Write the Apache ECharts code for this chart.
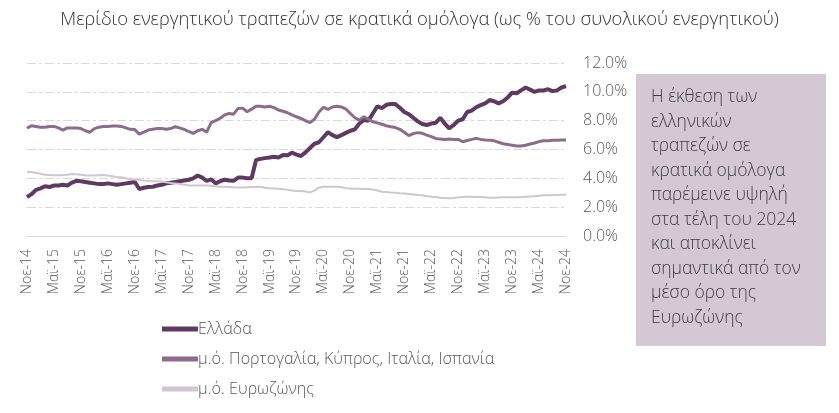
<!DOCTYPE html>
<html><head><meta charset="utf-8">
<script src="https://cdn.jsdelivr.net/npm/echarts@6/dist/echarts.min.js"></script>
<style>html,body{margin:0;padding:0;background:#fff}#c{width:839px;height:413px}</style>
</head><body><div id="c"></div>
<script>
var monthNames = ['Ιαν','Φεβ','Μαρ','Απρ','Μαϊ','Ιουν','Ιουλ','Αυγ','Σεπ','Οκτ','Νοε','Δεκ'];
var startYear = 2014, startMonth = 10, nMonths = 121;
var categories = [];
for (var k = 0; k < nMonths; k++) {
  var m = (startMonth + k) % 12, y = startYear + Math.floor((startMonth + k) / 12);
  categories.push(monthNames[m] + '-' + String(y).slice(2));
}
var greece = [
 2.7,2.9,3.2,3.3,3.45,3.4,3.5,3.5,3.55,3.5,3.7,3.83,
 3.8,3.75,3.7,3.65,3.6,3.6,3.65,3.6,3.55,3.6,3.65,3.7,
 3.75,3.26,3.35,3.4,3.42,3.5,3.55,3.65,3.7,3.75,3.8,3.85,
 3.9,4.0,4.2,4.05,3.83,3.93,3.65,3.8,3.9,3.85,3.83,4.05,
 4.05,4.0,4.0,5.27,5.35,5.4,5.45,5.5,5.45,5.62,5.6,5.78,
 5.65,5.55,5.8,6.1,6.4,6.5,6.85,7.2,7.0,6.86,7.0,7.15,
 7.3,7.4,7.8,8.05,8.0,8.5,9.0,8.87,9.1,9.15,9.15,8.9,
 8.6,8.45,8.2,7.95,7.77,7.7,7.8,7.85,8.2,7.8,7.47,7.7,
 8.0,8.1,8.6,8.7,8.93,9.08,9.2,9.43,9.35,9.2,9.35,9.6,
 9.94,9.9,10.1,10.3,10.15,10.0,10.1,10.1,10.18,10.05,10.1,10.3,10.4
];
var periphery = [
 7.47,7.65,7.6,7.55,7.55,7.6,7.6,7.5,7.35,7.5,7.5,7.5,
 7.45,7.3,7.2,7.45,7.55,7.6,7.6,7.63,7.63,7.6,7.5,7.4,
 7.38,7.06,7.2,7.35,7.4,7.45,7.45,7.4,7.45,7.58,7.5,7.4,
 7.25,7.12,7.3,7.4,7.2,7.86,8.0,8.17,8.4,8.5,8.45,8.85,
 8.87,8.62,8.8,9.0,9.0,8.95,9.0,8.9,8.74,8.65,8.55,8.4,
 8.27,8.15,8.0,7.86,8.1,8.6,8.92,8.78,8.95,9.0,8.95,8.8,
 8.5,8.2,8.04,8.27,8.1,7.93,7.85,7.75,7.65,7.58,7.52,7.4,
 7.2,6.96,7.1,7.17,7.12,7.0,6.89,6.77,6.72,6.7,6.72,6.7,
 6.7,6.54,6.62,6.7,6.77,6.7,6.66,6.65,6.6,6.5,6.4,6.35,
 6.3,6.24,6.25,6.3,6.38,6.45,6.55,6.6,6.6,6.64,6.65,6.66,6.66
];
var euroArea = [
 4.46,4.42,4.38,4.32,4.25,4.23,4.22,4.22,4.23,4.25,4.3,4.28,
 4.25,4.22,4.2,4.2,4.22,4.23,4.2,4.15,4.1,4.07,4.0,3.95,
 3.92,3.88,3.85,3.83,3.8,3.8,3.78,3.72,3.68,3.65,3.6,3.55,
 3.5,3.5,3.5,3.5,3.5,3.48,3.45,3.42,3.42,3.4,3.38,3.37,
 3.37,3.38,3.4,3.42,3.4,3.35,3.32,3.3,3.28,3.25,3.2,3.15,
 3.12,3.12,3.08,3.03,3.15,3.35,3.42,3.42,3.42,3.42,3.38,3.32,
 3.3,3.28,3.28,3.26,3.26,3.22,3.15,3.07,3.05,3.02,3.0,2.96,
 2.95,2.92,2.88,2.84,2.82,2.78,2.73,2.7,2.66,2.63,2.61,2.63,
 2.68,2.7,2.73,2.72,2.7,2.7,2.68,2.66,2.66,2.67,2.68,2.68,
 2.68,2.68,2.7,2.72,2.74,2.76,2.8,2.82,2.83,2.84,2.85,2.86,2.86
];
var seriesNames = ['Ελλάδα','μ.ό. Πορτογαλία, Κύπρος, Ιταλία, Ισπανία','μ.ό. Ευρωζώνης'];
var titleText = 'Μερίδιο ενεργητικού τραπεζών σε κρατικά ομόλογα (ως % του συνολικού ενεργητικού)';
var noteText = 'Η έκθεση των\nελληνικών\nτραπεζών σε\nκρατικά ομόλογα\nπαρέμεινε υψηλή\nστα τέλη του 2024\nκαι αποκλίνει\nσημαντικά από τον\nμέσο όρο της\nΕυρωζώνης';

var font = '"Open Sans", "Noto Sans", sans-serif';
var colors = ['#5f3a60', '#8d6b8d', '#d2c4d2'];
var widths = [4, 3, 2];
var chart = echarts.init(document.getElementById('c'));
chart.setOption({
  animation: false,
  textStyle: {fontFamily: font, fontWeight: 300},
  title: {text: titleText, left: 'center', top: 6,
    textStyle: {fontFamily: font, fontSize: 18.4, fontWeight: 300, color: '#333333'}},
  grid: {left: 27, right: 273, top: 63, bottom: 177},
  legend: {orient: 'vertical', left: 157, top: 316, itemWidth: 36, itemHeight: 5, itemGap: 14,
    textStyle: {fontFamily: font, fontSize: 16.2, fontWeight: 300, color: '#595959', padding: [0,0,0,-5]},
    data: seriesNames.map(function(n, i){
      return {name: n, icon: 'rect', itemStyle: {color: colors[i]}};
    })},
  xAxis: {type: 'category', data: categories, boundaryGap: false,
    axisLine: {show: true, lineStyle: {color: '#d9d9d9', width: 1}},
    axisTick: {show: false},
    axisLabel: {interval: 5, rotate: 90, fontSize: 14, fontWeight: 300, color: '#595959', margin: 13, fontFamily: font}},
  yAxis: {type: 'value', position: 'right', min: 0, max: 12, interval: 2,
    axisLine: {show: false}, axisTick: {show: false},
    axisLabel: {formatter: function(v){return v.toFixed(1)+'%';}, fontSize: 16, fontWeight: 300, color: '#595959',
      margin: 17, fontFamily: font},
    splitLine: {lineStyle: {color: '#d9d9d9', width: 1, type: [9,3,3,3]}}},
  series: [
    {name: seriesNames[0], type: 'line', data: greece, symbol: 'none',
      lineStyle: {color: colors[0], width: widths[0]}, itemStyle: {color: colors[0]}},
    {name: seriesNames[1], type: 'line', data: periphery, symbol: 'none',
      lineStyle: {color: colors[1], width: widths[1]}, itemStyle: {color: colors[1]}},
    {name: seriesNames[2], type: 'line', data: euroArea, symbol: 'none',
      lineStyle: {color: colors[2], width: widths[2]}, itemStyle: {color: colors[2]}}
  ],
  graphic: [
    {type: 'rect', left: 636, top: 74, shape: {width: 190, height: 272}, style: {fill: '#d5c8d5'}},
    {type: 'text', left: 651, top: 85, style: {text: noteText, fontFamily: font, fontSize: 17.5,
      fontWeight: 300, lineHeight: 24.5, fill: '#404040'}}
  ]
});
</script></body></html>
